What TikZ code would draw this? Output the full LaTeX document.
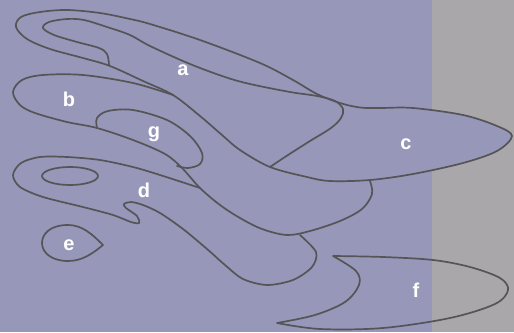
\documentclass[tikz,border=0pt]{standalone}
\usepackage{fontspec}
\setmainfont{Liberation Sans}
\begin{document}
\begin{tikzpicture}[x=1pt,y=-1pt,
  outline/.style={draw=linegray,line width=1.7pt,line join=round,line cap=round},
  lab/.style={text=white,font=\bfseries\fontsize{20}{22}\selectfont,anchor=base,inner sep=0pt}]
\definecolor{lav}{RGB}{151,151,186}
\definecolor{grayc}{RGB}{169,167,170}
\definecolor{linegray}{RGB}{85,85,87}
\useasboundingbox (0,0) rectangle (514,332);
\fill[lav] (0,0) rectangle (432,332);
\fill[grayc] (432,0) rectangle (514,332);
% outer a + c
\filldraw[outline,fill=lav] plot[smooth cycle,tension=0.55] coordinates {
 (173,95) (143,81) (110,66) (83,58) (50,49) (27,39) (16,27) (21,17) (40,12) (67,10)
 (100,13) (130,19) (150,24) (200,40) (260,63) (293,80) (317,94) (340,103) (360,107.5)
 (380,108) (413,108) (463,115) (497,126) (512,136) (497,151) (463,163) (413,174)
 (370,180) (330,181) (307,177) (270,167) (240,150) (222,135) (200,116)};
% inner a
\draw[outline] plot[smooth,tension=0.55] coordinates {
 (109,65) (107,54) (99,48) (77,42) (54,35) (43,28) (49,22) (67,19) (84,20) (107,27)
 (130,35) (150,46) (190,64) (225,77) (250,84) (290,92) (317,96) (335,101) (343,109)
 (341,118) (331,128) (310,141) (288,155) (270,167)};
% b
\draw[outline] plot[smooth,tension=0.55] coordinates {
 (173,95) (133,83) (83,75) (43,75) (22,80) (13,92) (20,105) (35,113) (67,122) (97,128)
 (133,140) (165,154) (182,168) (200,188) (220,205) (240,218) (262,229) (287,235)
 (310,231) (340,221) (362,209) (372,194) (370,181)};
% g
\draw[outline] plot[smooth,tension=0.55] coordinates {
 (97,128) (97,118) (108,111) (133,110) (167,120) (190,136) (202,153) (200,164) (188,168) (177,166)};
% d
\draw[outline] plot[smooth,tension=0.5] coordinates {
 (200,188) (160,175) (133,167) (100,160) (67,157) (40,157) (21,163) (13,175) (20,187)
 (43,197) (83,207) (113,215) (131,222) (139,223) (137,216) (126,208) (124,204) (131,202)
 (143,205) (160,213) (183,229) (207,249) (225,265) (243,279) (267,285) (293,280)
 (312,267) (316,252) (300,235)};
\draw[outline] (70,176) ellipse[x radius=28pt,y radius=9pt];
% e
\draw[outline] (103,245) .. controls (92,234) and (82,225) .. (68,225)
  .. controls (50,225) and (42,234) .. (42,243)
  .. controls (42,253) and (52,261) .. (68,261)
  .. controls (82,261) and (92,254) .. (103,245) -- cycle;
% f
\draw[outline] plot[smooth,tension=0.55] coordinates {
 (333,256) (356,271) (359,285) (345,302) (315,315) (277,323)}
 -- plot[smooth,tension=0.55] coordinates {
 (277,323) (320,329) (383,328) (450,318) (495,304) (508,290) (500,278) (470,267)
 (433,260) (383,257) (333,256)};
\node[lab] (la) at (183,75) {a};
\node[lab] (lb) at (69,106) {b};
\node[lab] (lg) at (154,137) {g};
\node[lab] (lc) at (406,149) {c};
\node[lab] (ld) at (144,197) {d};
\node[lab] (le) at (69,250) {e};
\node[lab] (lf) at (416,297) {f};
\end{tikzpicture}
\end{document}
